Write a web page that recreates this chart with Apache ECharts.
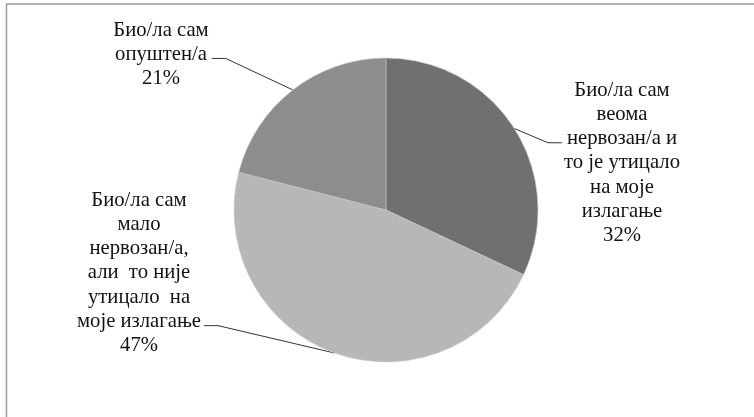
<!DOCTYPE html>
<html>
<head>
<meta charset="utf-8">
<script src="https://cdn.jsdelivr.net/npm/echarts@6/dist/echarts.min.js"></script>
<style>
html,body{margin:0;padding:0;background:#fff;}
#chart{width:754px;height:417px;}
</style>
</head>
<body>
<div id="chart"></div>
<script>
const categories = [
  'Био/ла сам\nвеома\nнервозан/а и\nто је утицало\nна моје\nизлагање',
  'Био/ла сам\nмало\nнервозан/а,\nали  то није\nутицало  на\nмоје излагање',
  'Био/ла сам\nопуштен/а'
];
const values = [32, 47, 21];
const colors = ['#707070', '#b7b7b7', '#8d8d8d'];

const LINE_H = 24.3;
const labelPlacement = [
  {x: 622, y: 78, side: 'right', anchorLine: 2},
  {x: 139, y: 188, side: 'left', anchorLine: 5},
  {x: 161, y: 18, side: 'left', anchorLine: 1}
];

const chart = echarts.init(document.getElementById('chart'));
chart.setOption({
  animation: false,
  backgroundColor: '#ffffff',
  graphic: [{
    type: 'rect',
    shape: {x: 6.5, y: 4, width: 800, height: 500},
    style: {fill: 'none', stroke: '#9c9c9c', lineWidth: 1.5},
    silent: true
  }],
  series: [{
    type: 'pie',
    center: [386, 210],
    radius: 152,
    startAngle: 90,
    clockwise: true,
    avoidLabelOverlap: false,
    data: categories.map((c, i) => ({name: c, value: values[i], itemStyle: {color: colors[i]}})),
    itemStyle: {borderColor: '#c8c8c8', borderWidth: 0.6},
    label: {
      show: true,
      position: 'outside',
      formatter: '{b}\n{d}%',
      fontFamily: '"Liberation Serif", "Times New Roman", serif',
      fontSize: 20.7,
      lineHeight: LINE_H,
      color: '#111111',
      align: 'center',
      overflow: 'none'
    },
    labelLine: {
      show: true,
      length: 10,
      length2: 10,
      lineStyle: {color: '#333333', width: 1}
    },
    labelLayout: function (p) {
      const pl = labelPlacement[p.dataIndex];
      const w = p.labelRect.width;
      const left = pl.x - w / 2;
      const ly = pl.y + (pl.anchorLine + 0.5) * LINE_H + 4;
      const start = p.labelLinePoints ? p.labelLinePoints[0] : [0, 0];
      let mid, end;
      if (pl.side === 'right') {
        end = [left - 2, ly];
        mid = [left - 16, ly];
      } else {
        end = [left + w + 3, ly];
        mid = [left + w + 17, ly];
      }
      return {
        x: pl.x,
        y: pl.y,
        align: 'center',
        verticalAlign: 'top',
        labelLinePoints: [start, mid, end]
      };
    }
  }]
});
</script>
</body>
</html>
